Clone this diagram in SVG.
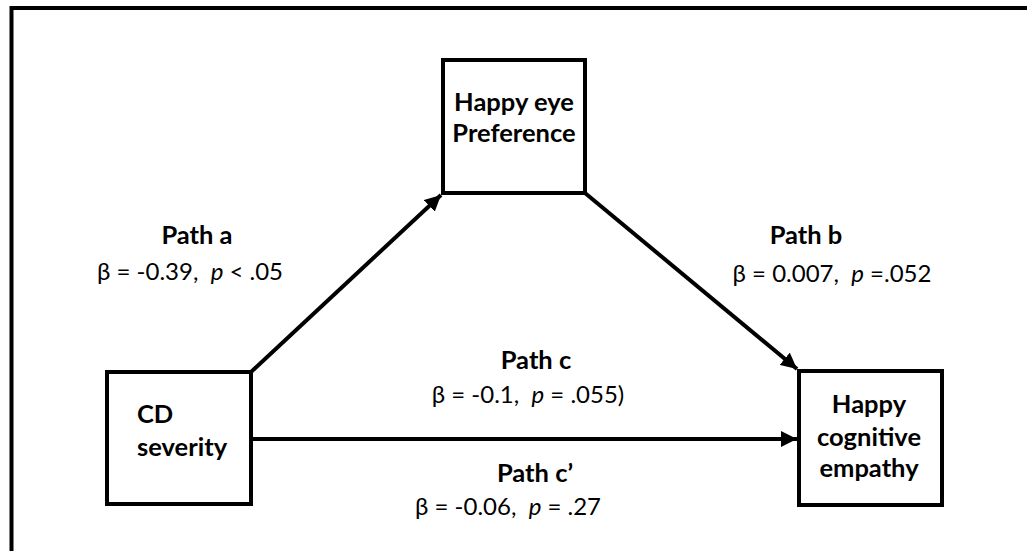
<svg xmlns="http://www.w3.org/2000/svg" width="1027" height="551" viewBox="0 0 1027 551">
<style>
.box{fill:#fff;stroke:#000;stroke-width:4}
.conn{stroke:#000;stroke-width:4;fill:none}
.nt{font-family:Lato,"Liberation Sans",sans-serif;font-weight:bold;font-size:25.5px;fill:#000}
.lt{font-family:Lato,"Liberation Sans",sans-serif;font-size:24px;fill:#000;text-anchor:middle;white-space:pre}
.lb{font-weight:bold;font-size:25.5px}
</style>
<defs>
<marker id="ah" viewBox="0 0 10 10" refX="10" refY="5" markerWidth="4" markerHeight="4" markerUnits="strokeWidth" orient="auto">
<path d="M0,0 L10,5 L0,10 z" fill="#000"/>
</marker>
</defs>
<rect x="0" y="0" width="1027" height="551" fill="#fff"/>
<path d="M11.5,551 V8 H1027" fill="none" stroke="#000" stroke-width="4"/>
<g id="connectors">
<line class="conn" x1="251" y1="372" x2="441" y2="195" marker-end="url(#ah)"/>
<line class="conn" x1="585" y1="193" x2="797" y2="369" marker-end="url(#ah)"/>
<line class="conn" x1="253" y1="439" x2="797" y2="439" marker-end="url(#ah)"/>
</g>
<g id="node-cd">
<rect class="box" x="107" y="372" width="144" height="132"/>
<text class="nt" x="137" y="423">CD</text>
<text class="nt" x="137" y="456">severity</text>
</g>
<g id="node-happy-eye">
<rect class="box" x="443" y="60" width="142" height="133"/>
<text class="nt" text-anchor="middle" x="514" y="111">Happy eye</text>
<text class="nt" text-anchor="middle" x="514" y="142">Preference</text>
</g>
<g id="node-happy-cog">
<rect class="box" x="799" y="371" width="143" height="134"/>
<text class="nt" text-anchor="middle" x="869" y="413">Happy</text>
<text class="nt" text-anchor="middle" x="869" y="446">cognitive</text>
<text class="nt" text-anchor="middle" x="869" y="477">empathy</text>
</g>
<g id="labels">
<text class="lt lb" x="197" y="244">Path a</text>
<text class="lt" x="190" y="280" xml:space="preserve">β = -0.39,  <tspan font-style="italic">p</tspan> &lt; .05</text>
<text class="lt lb" x="806" y="244">Path b</text>
<text class="lt" x="832" y="282" xml:space="preserve">β = 0.007,  <tspan font-style="italic">p</tspan> =.052</text>
<text class="lt lb" x="536" y="369">Path c</text>
<text class="lt" x="528" y="403" xml:space="preserve">β = -0.1,  <tspan font-style="italic">p</tspan> = .055)</text>
<text class="lt lb" x="535" y="482">Path c’</text>
<text class="lt" x="508" y="515" xml:space="preserve">β = -0.06,  <tspan font-style="italic">p</tspan> = .27</text>
</g>
</svg>
